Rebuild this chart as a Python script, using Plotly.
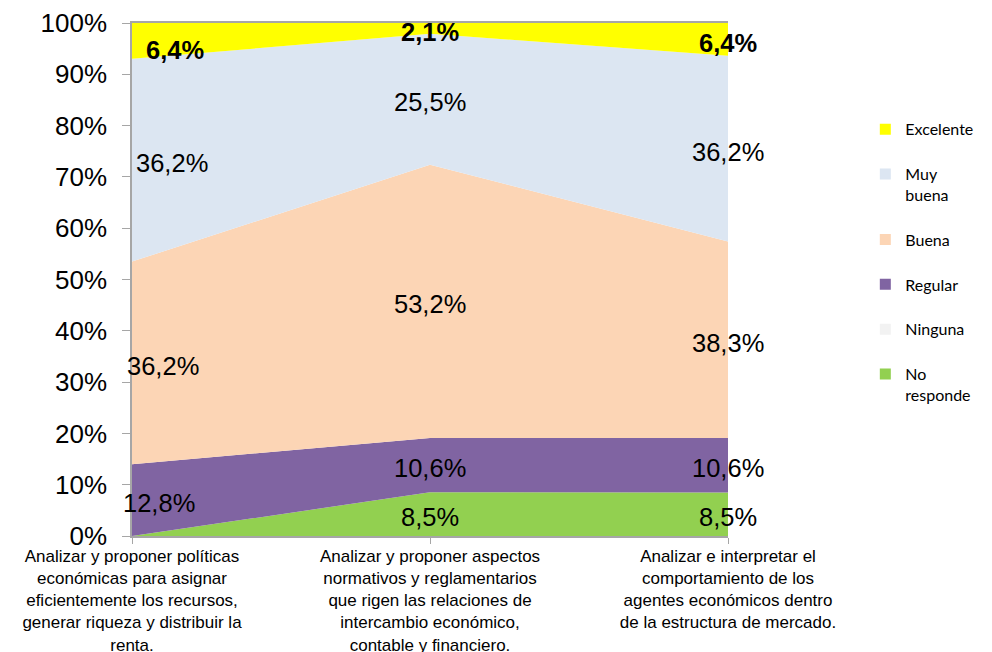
import plotly.graph_objects as go

categories = [
    "Analizar y proponer políticas<br>económicas para asignar<br>eficientemente los recursos,<br>generar riqueza y distribuir la<br>renta.",
    "Analizar y proponer aspectos<br>normativos y reglamentarios<br>que rigen las relaciones de<br>intercambio económico,<br>contable y financiero.",
    "Analizar e interpretar el<br>comportamiento de los<br>agentes económicos dentro<br>de la estructura de mercado.",
]
series_names = ["No responde", "Ninguna", "Regular", "Buena", "Muy buena", "Excelente"]
legend_names = ["No<br>responde", "Ninguna", "Regular", "Buena", "Muy<br>buena", "Excelente"]
no_responde = [0.0, 8.5, 8.5]
ninguna = [0.0, 0.0, 0.0]
regular = [12.8, 10.6, 10.6]
buena = [36.2, 53.2, 38.3]
muy_buena = [36.2, 25.5, 36.2]
excelente = [6.4, 2.1, 6.4]
values = [no_responde, ninguna, regular, buena, muy_buena, excelente]
colors = ["#92D050", "#F2F2F2", "#8064A2", "#FCD5B5", "#DCE6F2", "#FFFF00"]
bold_series = ["Excelente"]
ytick_vals = [0, 10, 20, 30, 40, 50, 60, 70, 80, 90, 100]
ytick_text = [f"{v}%" for v in ytick_vals]

fig = go.Figure()
for name, vals, col in zip(series_names, values, colors):
    fig.add_trace(go.Scatter(
        x=categories, y=vals, name=name, mode="lines",
        stackgroup="one", groupnorm="percent",
        line=dict(width=0, color=col), fillcolor=col,
        showlegend=False, hoverinfo="skip",
    ))

# legend entries (square swatches), top to bottom
for lname, col in reversed(list(zip(legend_names, colors))):
    fig.add_trace(go.Scatter(
        x=[None], y=[None], mode="markers", name=lname, legendgroup=lname,
        marker=dict(symbol="square", size=11, color=col),
    ))

# data labels at segment midpoints (normalized)
cat1_shift = {"Excelente": 43, "Muy buena": 40, "Buena": 31, "Regular": 27}
annotations = []
for ci, cat in enumerate(categories):
    total = sum(v[ci] for v in values)
    cum = 0.0
    for name, vals in zip(series_names, values):
        v = vals[ci]
        lo = cum / total * 100
        cum += v
        hi = cum / total * 100
        if v <= 0:
            continue
        txt = f"{v:.1f}%".replace(".", ",")
        bold = name in bold_series
        if bold:
            txt = f"<b>{txt}</b>"
        ymid = (lo + hi) / 2
        xs = cat1_shift.get(name, 0) if ci == 0 else 0
        ys = -3
        if bold:
            ys = -4 if ci != 0 else -9
        annotations.append(dict(
            x=cat, y=ymid, xref="x", yref="y", text=txt, showarrow=False,
            xanchor="center", yanchor="middle", xshift=xs, yshift=ys,
            font=dict(family="Liberation Sans, Arial", size=25.5, color="#000000"),
        ))

fig.update_layout(
    width=992, height=652,
    margin=dict(l=132, r=264, t=23, b=116),
    paper_bgcolor="white", plot_bgcolor="white",
    annotations=annotations,
    showlegend=True,
    legend=dict(
        x=1.42, y=0.826, xanchor="right", yanchor="top",
        font=dict(family="Lato", size=16, color="#000000"),
        traceorder="grouped", tracegroupgap=21, valign="top",
        itemwidth=30, bgcolor="rgba(0,0,0,0)",
    ),
    xaxis=dict(
        type="category", range=[0, 2], showgrid=False, zeroline=False,
        automargin=False,
        showline=True, linecolor="#A6A6A6", linewidth=1.5, mirror=True,
        ticks="outside", ticklen=6, tickcolor="#A6A6A6",
        ticklabelstandoff=-2,
        tickfont=dict(family="Liberation Sans, Arial", size=17, color="#000000"),
    ),
    yaxis=dict(
        range=[0, 100], tickvals=ytick_vals, ticktext=ytick_text,
        showgrid=False, zeroline=False, automargin=False,
        showline=True, linecolor="#A6A6A6", linewidth=1.5,
        ticks="outside", ticklen=8, tickcolor="#A6A6A6",
        ticklabelstandoff=10,
        tickfont=dict(family="Liberation Sans, Arial", size=26, color="#000000"),
    ),
)

fig.write_html(
    "out.html",
    config={"displayModeBar": False},
    post_script="document.body.style.margin='0';document.body.style.overflow='hidden';",
)
